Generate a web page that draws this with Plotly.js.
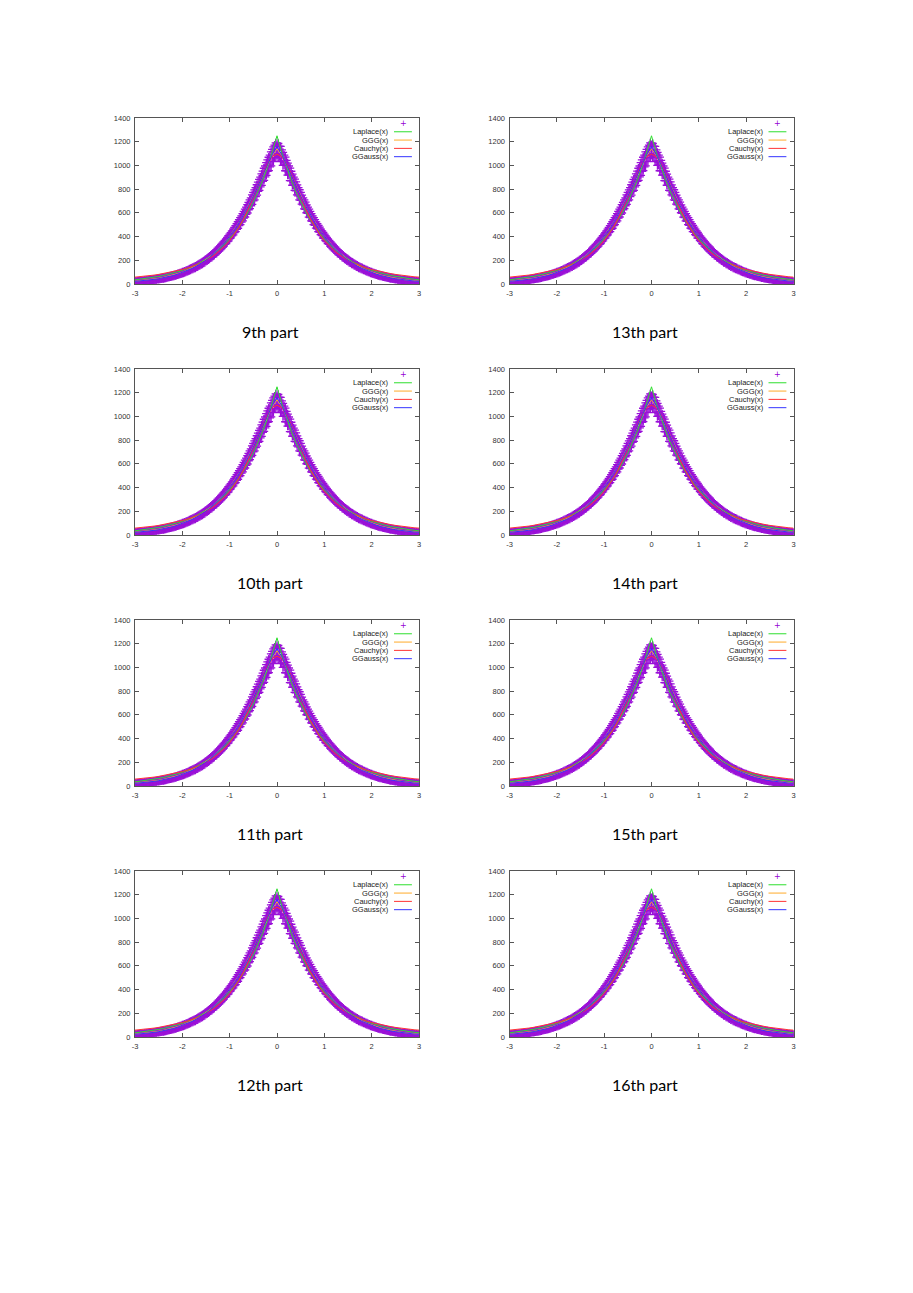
<!DOCTYPE html>
<html>
<head>
<meta charset="utf-8">
<script src="https://cdn.plot.ly/plotly-3.0.1.min.js"></script>
<style>
  html, body { margin: 0; padding: 0; background: #ffffff; }
  #chart { width: 913px; height: 1293px; }
</style>
</head>
<body>
<div id="chart"></div>
<script>
// histogram samples (x from -3 to 3)
const xData = [-3,-2.95,-2.9,-2.85,-2.8,-2.75,-2.7,-2.65,-2.6,-2.55,-2.5,-2.45,-2.4,-2.35,-2.3,-2.25,-2.2,-2.15,-2.1,-2.05,
    -2,-1.95,-1.9,-1.85,-1.8,-1.75,-1.7,-1.65,-1.6,-1.55,-1.5,-1.45,-1.4,-1.35,-1.3,-1.25,-1.2,-1.15,-1.1,-1.05,
    -1,-0.95,-0.9,-0.85,-0.8,-0.75,-0.7,-0.65,-0.6,-0.55,-0.5,-0.45,-0.4,-0.35,-0.3,-0.25,-0.2,-0.15,-0.1,-0.05,
    0,0.05,0.1,0.15,0.2,0.25,0.3,0.35,0.4,0.45,0.5,0.55,0.6,0.65,0.7,0.75,0.8,0.85,0.9,0.95,
    1,1.05,1.1,1.15,1.2,1.25,1.3,1.35,1.4,1.45,1.5,1.55,1.6,1.65,1.7,1.75,1.8,1.85,1.9,1.95,
    2,2.05,2.1,2.15,2.2,2.25,2.3,2.35,2.4,2.45,2.5,2.55,2.6,2.65,2.7,2.75,2.8,2.85,2.9,2.95,3];

const sampleA = [22,18,25,21,29,26,34,31,40,37,46,44,54,51,63,60,73,71,86,83,
    101,97,117,114,136,132,157,153,182,177,210,205,243,236,280,272,322,312,368,357,
    420,406,478,461,542,522,612,588,689,660,772,737,860,819,952,904,1046,988,1136,1065,
    1175,
    1078,1131,1003,1042,918,951,833,861,744,772,668,690,596,612,528,543,466,479,409,421,
    361,368,314,322,274,281,238,243,206,211,178,183,154,158,133,137,115,118,98,101,
    84,87,71,74,61,64,52,55,44,47,38,41,32,35,27,30,22,26,18,23];

const sampleB = [17,23,20,27,24,32,29,37,35,43,40,50,47,58,56,68,65,79,77,93,
    90,108,106,126,123,146,142,169,165,195,191,225,221,260,254,300,292,344,334,393,
    382,447,434,508,493,575,556,648,626,727,702,812,781,902,865,995,950,1087,1032,1171,
    1085,
    1163,1039,1087,955,995,870,902,786,812,705,727,630,648,560,575,495,508,437,447,384,
    393,336,344,294,300,255,260,222,226,192,195,166,169,143,146,124,126,106,108,91,
    93,77,79,66,68,56,58,47,50,40,43,34,37,28,32,24,27,19,23,16];

const sampleC = [21,20,23,24,27,28,32,33,38,39,44,46,51,54,60,63,70,74,82,87,
    96,102,112,119,130,138,150,160,174,185,201,214,233,246,268,284,308,325,353,372,
    403,424,459,481,520,545,587,615,661,690,740,771,825,857,913,946,1002,1034,1088,1114,
    1130,
    1101,1090,1029,1003,944,915,856,826,770,741,690,661,614,588,545,520,482,458,424,403,
    372,353,326,309,284,269,246,233,213,202,185,175,160,151,138,131,119,113,102,97,
    87,83,74,71,63,61,54,52,46,45,39,38,33,32,28,27,24,23,20,20];

// in-between bins
const xMid = [-2.975,-2.925,-2.875,-2.825,-2.775,-2.725,-2.675,-2.625,-2.575,-2.525,-2.475,-2.425,-2.375,-2.325,-2.275,-2.225,-2.175,-2.125,-2.075,-2.025,
    -1.975,-1.925,-1.875,-1.825,-1.775,-1.725,-1.675,-1.625,-1.575,-1.525,-1.475,-1.425,-1.375,-1.325,-1.275,-1.225,-1.175,-1.125,-1.075,-1.025,
    -0.975,-0.925,-0.875,-0.825,-0.775,-0.725,-0.675,-0.625,-0.575,-0.525,-0.475,-0.425,-0.375,-0.325,-0.275,-0.225,-0.175,-0.125,-0.075,-0.025,
    0.025,0.075,0.125,0.175,0.225,0.275,0.325,0.375,0.425,0.475,0.525,0.575,0.625,0.675,0.725,0.775,0.825,0.875,0.925,0.975,
    1.025,1.075,1.125,1.175,1.225,1.275,1.325,1.375,1.425,1.475,1.525,1.575,1.625,1.675,1.725,1.775,1.825,1.875,1.925,1.975,
    2.025,2.075,2.125,2.175,2.225,2.275,2.325,2.375,2.425,2.475,2.525,2.575,2.625,2.675,2.725,2.775,2.825,2.875,2.925,2.975];

const sampleD = [21,23,24,27,29,32,34,38,41,44,48,51,56,60,65,70,76,82,89,96,
    104,112,121,131,141,151,163,175,188,202,218,234,251,270,290,311,333,356,380,407,
    434,463,493,525,559,594,631,669,709,751,793,837,882,929,976,1023,1069,1114,1157,1190,
    1185,1160,1110,1070,1020,978,927,884,836,795,750,710,668,632,593,560,524,494,462,435,
    406,381,355,333,310,290,269,252,233,218,202,189,175,163,151,141,130,121,112,104,
    96,89,82,76,70,65,60,55,51,47,44,40,37,34,31,29,26,24,22,21];

const sampleE = [18,19,21,23,26,28,30,33,36,39,42,46,49,53,58,63,68,73,79,86,
    93,100,109,117,126,135,146,157,169,181,195,210,225,242,259,278,298,319,341,364,
    389,415,442,470,501,532,565,599,635,672,710,750,790,831,874,916,957,997,1035,1067,
    1070,1032,1000,955,918,872,833,789,752,709,673,634,601,564,533,500,471,441,416,388,
    365,340,319,298,278,259,242,225,210,195,181,169,157,146,135,126,117,109,100,93,
    86,79,73,68,62,58,53,49,45,42,39,36,33,31,28,26,23,22,20,18];

// fitted curves
const xFit = [-3,-2.9,-2.8,-2.7,-2.6,-2.5,-2.4,-2.3,-2.2,-2.1,-2,-1.9,-1.8,-1.7,-1.6,-1.5,-1.4,-1.3,-1.2,-1.1,
    -1,-0.9,-0.8,-0.7,-0.6,-0.5,-0.4,-0.3,-0.2,-0.1,0,0.1,0.2,0.3,0.4,0.5,0.6,0.7,0.8,0.9,
    1,1.1,1.2,1.3,1.4,1.5,1.6,1.7,1.8,1.9,2,2.1,2.2,2.3,2.4,2.5,2.6,2.7,2.8,2.9,3];

const laplaceFit = [35,40,45,50,57,64,72,81,91,103,116,130,147,165,186,210,236,266,300,338,
    380,428,482,543,612,690,777,875,985,1110,1250,1110,985,875,777,690,612,543,482,428,
    380,338,300,266,236,210,186,165,147,130,116,103,91,81,72,64,57,50,45,40,35];

const gggFit = [23,27,31,36,42,48,56,65,75,87,100,116,134,154,178,205,236,271,311,355,
    405,461,522,590,664,744,828,916,1004,1085,1140,1085,1004,916,828,744,664,590,522,461,
    405,355,311,271,236,205,178,154,134,116,100,87,75,65,56,48,42,36,31,27,23];

const cauchyFit = [58,61,66,70,75,81,88,95,103,112,122,133,146,162,179,199,223,250,282,320,
    365,418,480,553,637,730,830,928,1014,1074,1095,1074,1014,928,830,730,637,553,480,418,
    365,320,282,250,223,199,179,162,146,133,122,112,103,95,88,81,75,70,66,61,58];

const ggaussFit = [22,25,29,34,39,45,52,60,71,83,97,113,131,151,175,202,233,268,309,353,
    403,459,520,588,662,741,826,915,1005,1091,1160,1091,1005,915,826,741,662,588,520,459,
    403,353,309,268,233,202,175,151,131,113,97,83,71,60,52,45,39,34,29,25,22];

const fitNames = ["Laplace(x)", "GGG(x)", "Cauchy(x)", "GGauss(x)"];
const fitColors = ["#2ede2e", "#ffaa2a", "#ff3434", "#3434ff"];

const xTicks = [-3, -2, -1, 0, 1, 2, 3];
const xTickText = ["-3", "-2", "-1", "0", "1", "2", "3"];
const yTicks = [0, 200, 400, 600, 800, 1000, 1200, 1400];

// left column first, then right column
const partTitles = ["9th part", "10th part", "11th part", "12th part",
                    "13th part", "14th part", "15th part", "16th part"];

const W = 913, H = 1293;
const colLeft = [135, 509.5];
const plotW = 284;
const rowTop = 118, plotH = 166, rowStep = 251;

const tickFont = {family: "Liberation Sans, Arial, sans-serif", size: 7.5, color: "#333333"};

var data = [];
var layout = {
    width: W,
    height: H,
    margin: {l: 0, r: 0, t: 0, b: 0},
    paper_bgcolor: "#ffffff",
    plot_bgcolor: "#ffffff",
    showlegend: false,
    annotations: [],
    shapes: []
};

for (let k = 0; k < 8; k++) {
    const col = Math.floor(k / 4);
    const row = k % 4;
    const n = k + 1;
    const xa = "x" + n, ya = "y" + n;
    const xKey = n === 1 ? "xaxis" : "xaxis" + n;
    const yKey = n === 1 ? "yaxis" : "yaxis" + n;

    const x0 = colLeft[col] / W, x1 = (colLeft[col] + plotW) / W;
    const top = rowTop + row * rowStep;
    const y1 = 1 - top / H, y0 = 1 - (top + plotH) / H;

    const axisCommon = {
        showgrid: false,
        zeroline: false,
        showline: true,
        linecolor: "#555555",
        linewidth: 1,
        mirror: "allticks",
        ticks: "inside",
        ticklen: 4,
        tickwidth: 1,
        tickcolor: "#555555",
        tickfont: tickFont,
        fixedrange: true
    };

    layout[xKey] = Object.assign({}, axisCommon, {
        domain: [x0, x1],
        anchor: ya,
        range: [-3, 3],
        tickmode: "array",
        tickvals: xTicks,
        ticktext: xTickText,
        ticklabelstandoff: 2
    });
    layout[yKey] = Object.assign({}, axisCommon, {
        domain: [y0, y1],
        anchor: xa,
        range: [0, 1400],
        tickmode: "array",
        tickvals: yTicks,
        ticklabelstandoff: 2
    });

    // samples
    const sets = [[xData, sampleA], [xMid, sampleD], [xData, sampleB], [xMid, sampleE], [xData, sampleC]];
    sets.forEach(function (s) {
        data.push({
            type: "scatter",
            mode: "markers",
            x: s[0],
            y: s[1],
            xaxis: xa,
            yaxis: ya,
            marker: {
                symbol: "cross-thin",
                size: 6,
                color: "#9400d3",
                line: {width: 1.3, color: "#9a10d8"}
            },
            hoverinfo: "skip"
        });
    });

    // fits: Laplace, GGG, Cauchy, GGauss
    [laplaceFit, gggFit, cauchyFit, ggaussFit].forEach(function (ys, j) {
        data.push({
            type: "scatter",
            mode: "lines",
            x: xFit,
            y: ys,
            xaxis: xa,
            yaxis: ya,
            line: {color: fitColors[j], width: 1},
            hoverinfo: "skip"
        });
    });

    // gnuplot style key: text on the left, sample on the right
    const xd = xa + " domain", yd = ya + " domain";
    layout.annotations.push({
        xref: xd, yref: yd, x: 0.945, y: 0.964,
        text: "+", showarrow: false,
        font: {family: "DejaVu Sans, sans-serif", size: 8, color: "#9400d3"},
        xanchor: "center", yanchor: "middle"
    });
    const keyY = [0.917, 0.867, 0.817, 0.767];
    fitNames.forEach(function (name, j) {
        layout.annotations.push({
            xref: xd, yref: yd, x: 0.902, y: keyY[j],
            text: name, showarrow: false,
            font: {family: "Liberation Sans, Arial, sans-serif", size: 7.5, color: "#222222"},
            xanchor: "right", yanchor: "middle"
        });
        layout.shapes.push({
            type: "line", xref: xd, yref: yd,
            x0: 0.912, x1: 0.975, y0: keyY[j], y1: keyY[j],
            line: {color: fitColors[j], width: 1}
        });
    });

    // caption under each plot
    layout.annotations.push({
        xref: "paper", yref: "paper",
        x: (col === 0 ? 270 : 645) / W,
        y: 1 - (331 + row * rowStep) / H,
        text: partTitles[k], showarrow: false,
        font: {family: "Lato, Carlito, sans-serif", size: 16, color: "#000000"},
        xanchor: "center", yanchor: "middle"
    });
}

Plotly.newPlot("chart", data, layout, {displayModeBar: false, staticPlot: true});
</script>
</body>
</html>
